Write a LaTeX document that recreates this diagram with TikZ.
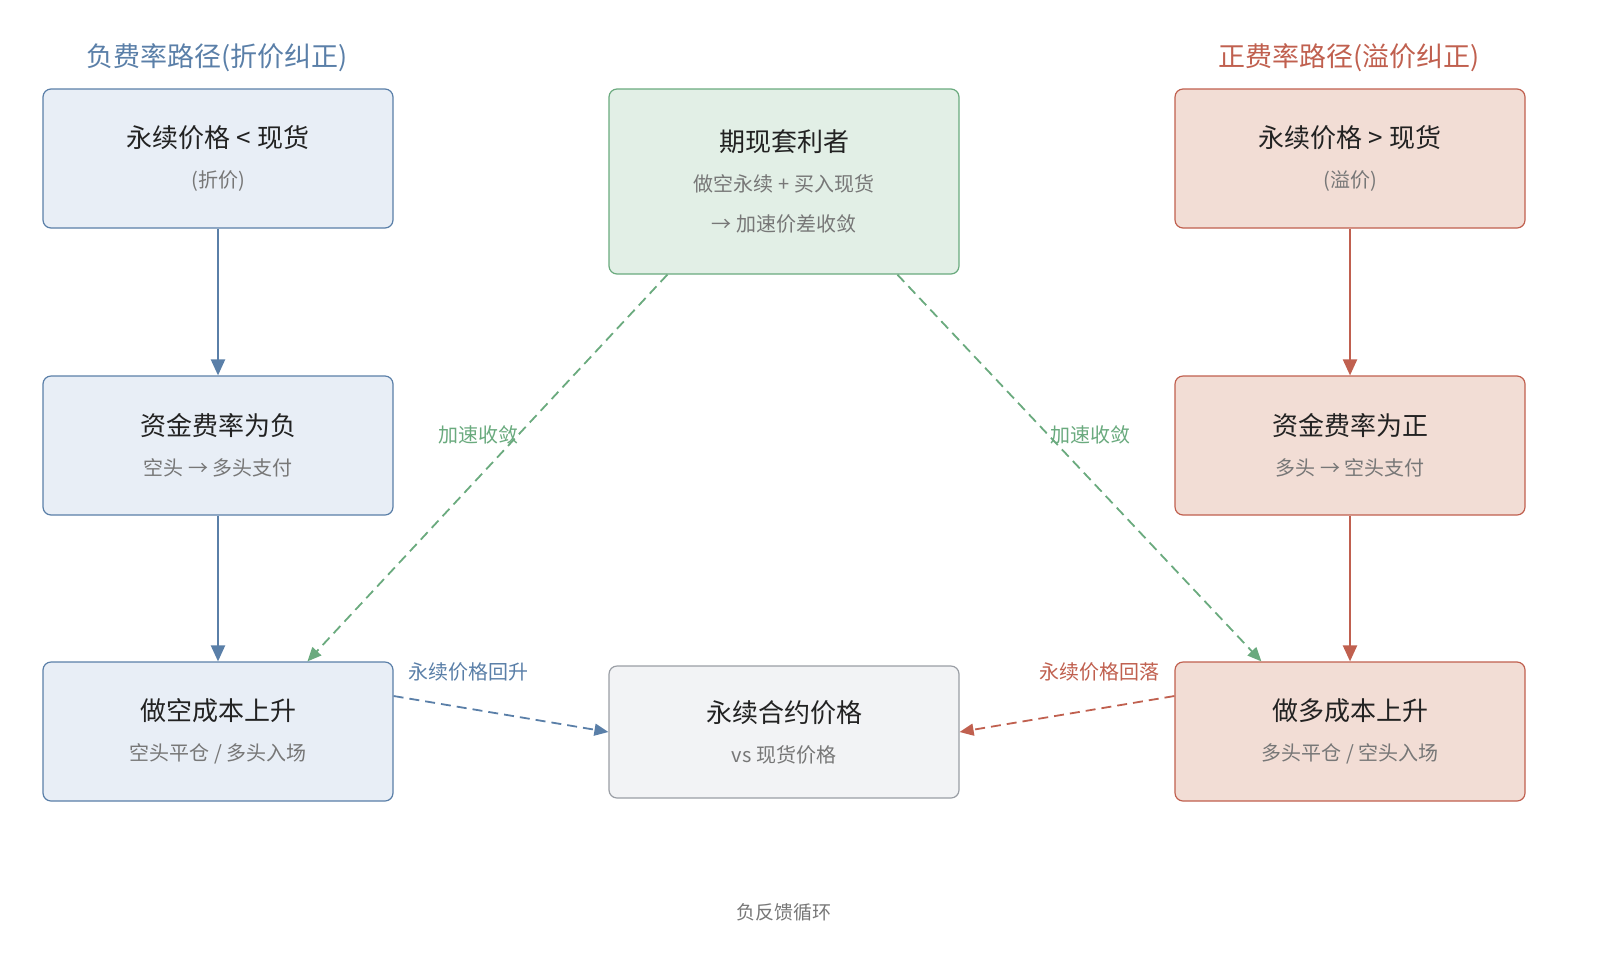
\documentclass[tikz,border=0pt]{standalone}
\usepackage{fontspec}
\setmainfont{Noto Sans CJK SC}
\usetikzlibrary{arrows.meta}
\definecolor{bfill}{HTML}{E8EEF6}\definecolor{bline}{HTML}{5A7FA8}
\definecolor{rfill}{HTML}{F2DDD5}\definecolor{rline}{HTML}{C0604F}
\definecolor{gfill}{HTML}{E2EFE6}\definecolor{gline}{HTML}{6AAA7E}
\definecolor{nfill}{HTML}{F2F3F5}\definecolor{nline}{HTML}{9A9EA5}
\definecolor{tx}{HTML}{222222}\definecolor{sub}{HTML}{777777}
\newcommand{\mysub}{\fontsize{10}{18}\selectfont\color{sub}}
\begin{document}
\begin{tikzpicture}[x=0.5pt,y=-0.5pt,
 box/.style={draw,rounded corners=4pt,line width=0.6pt,minimum width=175pt,minimum height=69.5pt,align=center,text=tx,font=\fontsize{13}{20}\selectfont},
 bb/.style={box,fill=bfill,draw=bline},
 rb/.style={box,fill=rfill,draw=rline},
 arr/.style={line width=1.1pt,-{Triangle[length=8pt,width=7pt]}},
 dsh/.style={line width=0.9pt,dash pattern=on 5pt off 3pt,-{Triangle[length=7pt,width=6pt]}},
 lab/.style={font=\fontsize{10}{12}\selectfont}]
\useasboundingbox (0,0) rectangle (1600,976);
\node[text=bline,font=\fontsize{13.5}{15}\selectfont] (tl) at (217,58) {负费率路径(折价纠正)};
\node[text=rline,font=\fontsize{13.5}{15}\selectfont] (tr) at (1349,58) {正费率路径(溢价纠正)};
\node[bb] (l1) at (218,158.5) {永续价格 < 现货\\ \mysub (折价)};
\node[bb] (l2) at (218,445.5) {资金费率为负\\ \mysub 空头 → 多头支付};
\node[bb] (l3) at (218,731.5) {做空成本上升\\ \mysub 空头平仓 / 多头入场};
\node[rb] (r1) at (1350,158.5) {永续价格 > 现货\\ \mysub (溢价)};
\node[rb] (r2) at (1350,445.5) {资金费率为正\\ \mysub 多头 → 空头支付};
\node[rb] (r3) at (1350,731.5) {做多成本上升\\ \mysub 多头平仓 / 空头入场};
\node[box,fill=gfill,draw=gline,minimum height=92.5pt] (ct) at (784,181.5) {期现套利者\\ \mysub 做空永续 + 买入现货\\ \mysub → 加速价差收敛};
\node[box,fill=nfill,draw=nline,minimum height=66pt] (cb) at (784,732) {永续合约价格\\ \mysub vs 现货价格};
\node[text=sub,font=\fontsize{9.5}{11}\selectfont] (ft) at (784,912) {负反馈循环};
\draw[arr,bline] (l1) -- (l2);
\draw[arr,bline] (l2) -- (l3);
\draw[arr,rline] (r1) -- (r2);
\draw[arr,rline] (r2) -- (r3);
\draw[dsh,gline] ([xshift=29.5pt]ct.south west) -- ([xshift=132.5pt]l3.north west);
\draw[dsh,gline] ([xshift=144.5pt]ct.south west) -- ([xshift=43.5pt]r3.north west);
\draw[dsh,bline] ([yshift=17.75pt]l3.east) -- (cb.west);
\draw[dsh,rline] ([yshift=17.75pt]r3.west) -- (cb.east);
\node[lab,text=gline] (g1) at (478,435) {加速收敛};
\node[lab,text=gline] (g2) at (1090,435) {加速收敛};
\node[lab,text=bline] (lb1) at (468,672) {永续价格回升};
\node[lab,text=rline] (lb2) at (1099,672) {永续价格回落};
\end{tikzpicture}
\end{document}
